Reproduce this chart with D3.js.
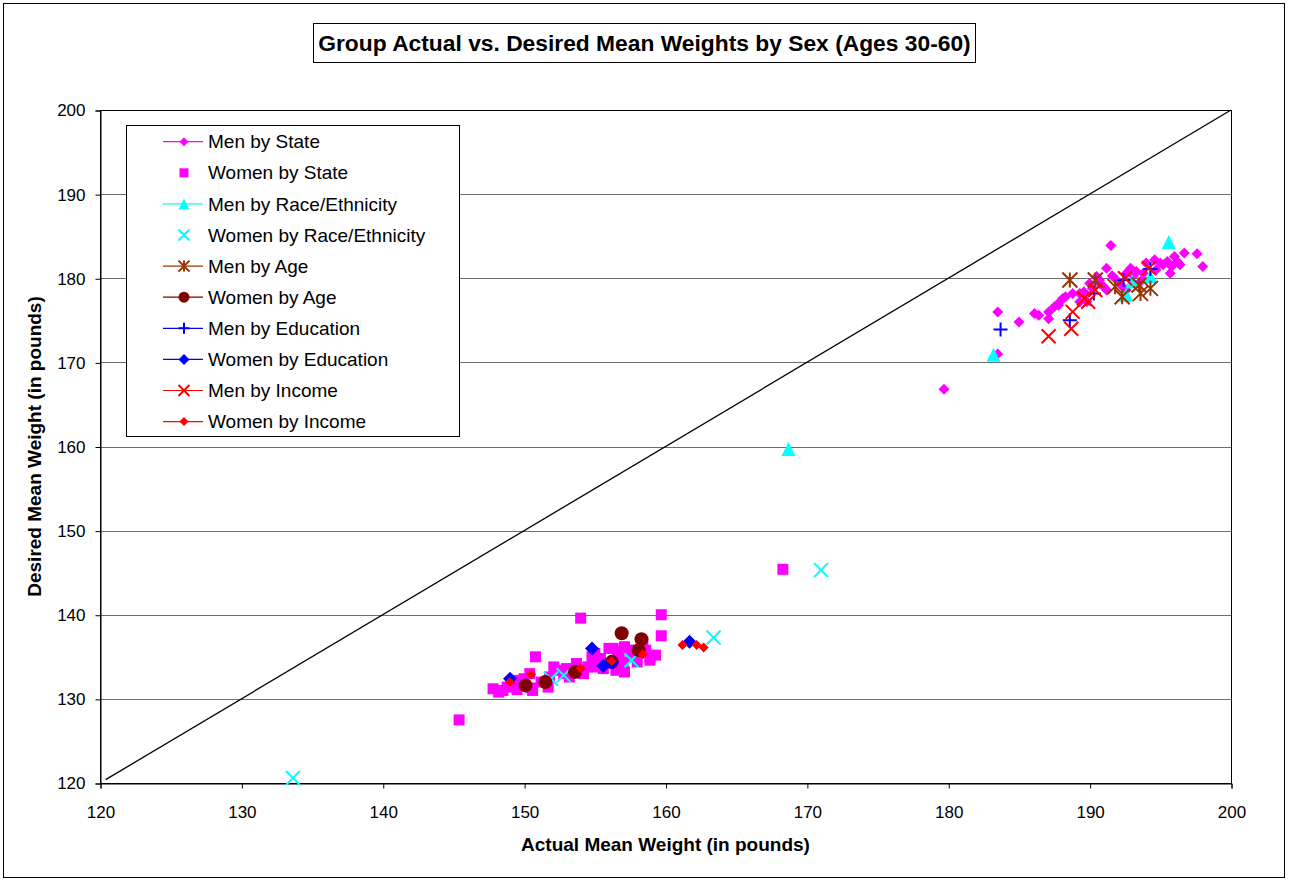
<!DOCTYPE html>
<html>
<head>
<meta charset="utf-8">
<script src="https://cdn.jsdelivr.net/npm/d3@7"></script>
<style>
  body { margin: 0; background: #fff; }
  svg text { font-family: "Liberation Sans", Arial, sans-serif; }
</style>
</head>
<body>
<svg id="chart"></svg>
<script>
var svg_width = 1289;
var svg_height = 883;

// axis ranges and ticks
var x_domain = [120, 200];
var y_domain = [120, 200];
var tick_values = [120, 130, 140, 150, 160, 170, 180, 190, 200];

// [actual, desired] pairs
var men_by_state = [[183.5,176.0],[185.0,174.8],[186.1,175.8],[186.4,175.6],[187.1,176.0],[187.1,175.2],[187.8,176.8],
  [187.9,177.2],[188.1,177.6],[188.8,178.2],[189.3,178.2],[189.8,177.2],[190.0,179.4],[190.5,180.2],[190.7,179.8],
  [191.0,179.0],[191.2,178.6],[191.2,181.2],[191.5,183.9],[192.6,180.6],[192.6,178.6],[193.3,180.8],[194.0,181.8],
  [195.0,181.8],[195.5,182.0],[195.7,180.6],[196.0,182.6],[196.2,182.0],[196.7,183.0],[197.6,182.9],[198.0,181.4],
  [183.5,171.0],[179.7,166.8],[191.6,180.3],[191.9,179.8],[193.1,180.3],[193.8,180.6],[194.7,181.0],[195.2,181.6],
  [194.6,182.2],[195.8,181.4],[190.7,179.4],[189.3,177.2],[188.3,177.8],[187.5,176.6],[192.2,179.2],[190.2,178.8],
  [193.6,179.6],[189.6,178.4],[192.9,181.2],[196.4,181.6]];
var women_by_state = [[145.4,127.5],[168.3,145.4],[154.0,139.6],[159.7,140.0],[159.7,137.5],[150.8,135.0],[147.8,131.2],
  [148.2,130.8],[148.5,131.0],[149.5,131.1],[150.5,131.3],[150.4,133.0],[151.7,131.4],[152.1,133.8],[153.7,134.2],
  [154.5,133.8],[155.0,135.4],[156.3,136.0],[157.1,136.2],[156.5,133.4],[157.1,133.2],[156.7,134.8],[158.9,135.0],
  [159.3,135.2],[158.9,134.6],[158.4,136.4],[152.5,133.4],[153.2,132.6],[153.9,133.2],[155.4,134.8],[158.0,134.4],
  [151.8,132.6],[157.0,134.4],[157.7,135.0],[149.5,132.2],[150.6,131.0],[151.2,132.0],[152.8,133.0],[154.2,133.0],
  [155.0,133.8],[155.8,134.2],[156.6,135.6],[157.4,135.8],[156.0,136.0],[156.8,133.8],[153.0,133.6],[154.8,135.0],
  [155.6,133.6],[158.6,135.8],[150.0,132.4],[148.8,131.4]];
var men_by_race = [[195.6,184.3],[183.2,170.9],[168.7,159.7],[192.6,178.0],[194.3,180.2],[193.0,179.6]];
var women_by_race = [[133.65,120.6],[171.0,145.3],[163.4,137.3],[157.6,134.6],[152.8,132.8],[151.9,132.4]];
var men_by_age = [[188.6,179.8],[190.4,179.8],[191.8,179.0],[192.3,177.8],[193.5,179.2],[193.6,178.2],[194.3,178.8]];
var women_by_age = [[150.1,131.6],[151.5,132.0],[153.6,133.2],[156.2,134.4],[156.9,137.8],[158.3,137.1],[158.1,135.8]];
var men_by_education = [[183.7,173.9],[188.6,175.0],[190.3,178.2],[192.4,179.8],[194.3,181.1]];
var women_by_education = [[149.0,132.4],[154.8,136.0],[155.6,133.9],[156.2,134.3],[161.7,136.8]];
var men_by_income = [[187.1,173.1],[188.7,174.0],[188.8,176.0],[189.6,177.6],[189.9,177.2],[190.4,178.6],[192.5,180.0],[194.2,181.2]];
var women_by_income = [[149.0,132.0],[150.5,132.9],[154.0,133.6],[156.2,134.5],[158.4,135.3],[161.2,136.4],[162.2,136.4],[162.7,136.1]];
var diagonal = [[120.4,120.4],[200,200]];

var series = [
  {name: 'Men by State', data: men_by_state, shape: 'diamond', color: '#ff00ff', r: 5.5, lr: 4.5, line: true},
  {name: 'Women by State', data: women_by_state, shape: 'square', color: '#ff00ff', r: 5.5, lr: 4.5, line: false},
  {name: 'Men by Race/Ethnicity', data: men_by_race, shape: 'triangle', color: '#00ffff', r: 7, lr: 5.5, line: true},
  {name: 'Women by Race/Ethnicity', data: women_by_race, shape: 'x', color: '#00ffff', r: 7, lr: 5.5, line: false},
  {name: 'Men by Age', data: men_by_age, shape: 'star', color: '#993300', r: 7.5, lr: 5.5, line: true},
  {name: 'Women by Age', data: women_by_age, shape: 'circle', color: '#800000', r: 7, lr: 5.5, line: true},
  {name: 'Men by Education', data: men_by_education, shape: 'plus', color: '#0000ff', r: 7, lr: 5.5, line: true},
  {name: 'Women by Education', data: women_by_education, shape: 'diamond', color: '#0000ff', r: 7, lr: 5.5, line: true},
  {name: 'Men by Income', data: men_by_income, shape: 'x', color: '#ff0000', r: 7, lr: 5.5, line: true},
  {name: 'Women by Income', data: women_by_income, shape: 'diamond', color: '#ff0000', r: 5, lr: 4.5, line: true}
];

var margin = {left: 100, right: 58, top: 110, bottom: 100};

var svg = d3.select('#chart')
  .attr('width', svg_width)
  .attr('height', svg_height);

// outer frame
svg.append('rect')
  .attr('x', 3.5).attr('y', 3.5)
  .attr('width', 1281).attr('height', 874)
  .attr('fill', '#fff').attr('stroke', '#000').attr('stroke-width', 1);

var xScale = d3.scaleLinear().domain(x_domain).range([margin.left, svg_width - margin.right]);
var yScale = d3.scaleLinear().domain(y_domain).range([svg_height - margin.bottom, margin.top]);

// gridlines
svg.append('g')
  .selectAll('line')
  .data(tick_values.slice(1, -1))
  .enter()
  .append('line')
  .attr('x1', xScale(x_domain[0])).attr('x2', xScale(x_domain[1]))
  .attr('y1', function(d) {return(Math.round(yScale(d)) + 0.5);})
  .attr('y2', function(d) {return(Math.round(yScale(d)) + 0.5);})
  .attr('stroke', '#6e6e6e').attr('stroke-width', 1);

// plot frame
svg.append('rect')
  .attr('x', xScale(x_domain[0]) + 0.5).attr('y', yScale(y_domain[1]) + 0.5)
  .attr('width', xScale(x_domain[1]) - xScale(x_domain[0]))
  .attr('height', yScale(y_domain[0]) - yScale(y_domain[1]))
  .attr('fill', 'none').attr('stroke', '#000').attr('stroke-width', 1);

// axes
var xAxis = svg.append('g')
  .attr('transform', 'translate(0.5,' + (yScale(y_domain[0]) + 0.5) + ')')
  .call(d3.axisBottom(xScale).tickValues(tick_values).tickSize(5).tickPadding(17).tickFormat(d3.format('d')));
var yAxis = svg.append('g')
  .attr('transform', 'translate(' + (xScale(x_domain[0]) + 0.5) + ',0.5)')
  .call(d3.axisLeft(yScale).tickValues(tick_values).tickSize(5).tickPadding(10).tickFormat(d3.format('d')));
[xAxis, yAxis].forEach(function(ax) {
  ax.select('.domain').attr('stroke', '#000');
  ax.selectAll('.tick line').attr('stroke', '#000');
  ax.selectAll('.tick text')
    .attr('fill', '#000')
    .style('font-size', '17px')
    .style('font-family', '"Liberation Sans", Arial, sans-serif');
});

// y = x reference line
svg.append('path')
  .datum(diagonal)
  .attr('d', d3.line().x(function(d) {return(xScale(d[0]));}).y(function(d) {return(yScale(d[1]));}))
  .attr('fill', 'none').attr('stroke', '#000').attr('stroke-width', 1.3);

function marker_path(shape, r) {
  if(shape == 'diamond') return 'M0,' + (-r) + 'L' + r + ',0L0,' + r + 'L' + (-r) + ',0Z';
  if(shape == 'square') return 'M' + (-r) + ',' + (-r) + 'h' + 2*r + 'v' + 2*r + 'h' + (-2*r) + 'Z';
  if(shape == 'triangle') return 'M0,' + (-r) + 'L' + r + ',' + r + 'L' + (-r) + ',' + r + 'Z';
  if(shape == 'x') return 'M' + (-r) + ',' + (-r) + 'L' + r + ',' + r + 'M' + r + ',' + (-r) + 'L' + (-r) + ',' + r;
  if(shape == 'plus') return 'M' + (-r) + ',0L' + r + ',0M0,' + (-r) + 'L0,' + r;
  if(shape == 'star') return 'M' + (-r) + ',' + (-r) + 'L' + r + ',' + r + 'M' + r + ',' + (-r) + 'L' + (-r) + ',' + r + 'M0,' + (-r) + 'L0,' + r;
  if(shape == 'circle') return 'M' + r + ',0A' + r + ',' + r + ' 0 1,1 ' + (-r) + ',0A' + r + ',' + r + ' 0 1,1 ' + r + ',0Z';
}

function is_stroked(shape) {
  return (shape == 'x' || shape == 'plus' || shape == 'star');
}

function style_marker(sel, s) {
  if(is_stroked(s.shape)) {
    sel.attr('fill', 'none').attr('stroke', s.color).attr('stroke-width', 2);
  } else {
    sel.attr('fill', s.color).attr('stroke', 'none');
  }
}

// markers
series.forEach(function(s) {
  var g = svg.append('g').attr('class', 'series');
  var pts = g.selectAll('path')
    .data(s.data)
    .enter()
    .append('path')
    .attr('transform', function(d) {return('translate(' + xScale(d[0]) + ',' + yScale(d[1]) + ')');})
    .attr('d', marker_path(s.shape, s.r));
  style_marker(pts, s);
});

// legend
var legend = svg.append('g');
legend.append('rect')
  .attr('x', 126.5).attr('y', 125.5).attr('width', 333).attr('height', 311)
  .attr('fill', '#fff').attr('stroke', '#000').attr('stroke-width', 1);

var legend_items = legend.selectAll('g.item')
  .data(series)
  .enter()
  .append('g')
  .attr('class', 'item')
  .attr('transform', function(d, i) {return('translate(0,' + (141.7 + i * 31.1) + ')');});

legend_items.filter(function(d) {return(d.line);})
  .append('line')
  .attr('x1', 163).attr('x2', 203).attr('y1', 0).attr('y2', 0)
  .attr('stroke', function(d) {return(d.color);}).attr('stroke-width', 1.2);

legend_items.append('path')
  .attr('transform', 'translate(184,0)')
  .attr('d', function(d) {return(marker_path(d.shape, d.lr));})
  .each(function(d) {style_marker(d3.select(this), d);});

legend_items.append('text')
  .attr('x', 208).attr('y', 0).attr('dy', '0.35em')
  .style('font-size', '19px')
  .attr('fill', '#000')
  .text(function(d) {return(d.name);});

// title
svg.append('rect')
  .attr('x', 313.5).attr('y', 23.5).attr('width', 662).attr('height', 39)
  .attr('fill', '#fff').attr('stroke', '#000').attr('stroke-width', 1);
svg.append('text')
  .attr('x', 644.5).attr('y', 51)
  .attr('text-anchor', 'middle')
  .style('font-size', '22.8px').style('font-weight', 'bold')
  .text('Group Actual vs. Desired Mean Weights by Sex (Ages 30-60)');

// axis titles
svg.append('text')
  .attr('x', (xScale(x_domain[0]) + xScale(x_domain[1])) / 2).attr('y', 851)
  .attr('text-anchor', 'middle')
  .style('font-size', '19px').style('font-weight', 'bold')
  .text('Actual Mean Weight (in pounds)');
svg.append('text')
  .attr('transform', 'translate(41,' + ((yScale(y_domain[0]) + yScale(y_domain[1])) / 2) + ') rotate(-90)')
  .attr('text-anchor', 'middle')
  .style('font-size', '19px').style('font-weight', 'bold')
  .text('Desired Mean Weight (in pounds)');
</script>
</body>
</html>
